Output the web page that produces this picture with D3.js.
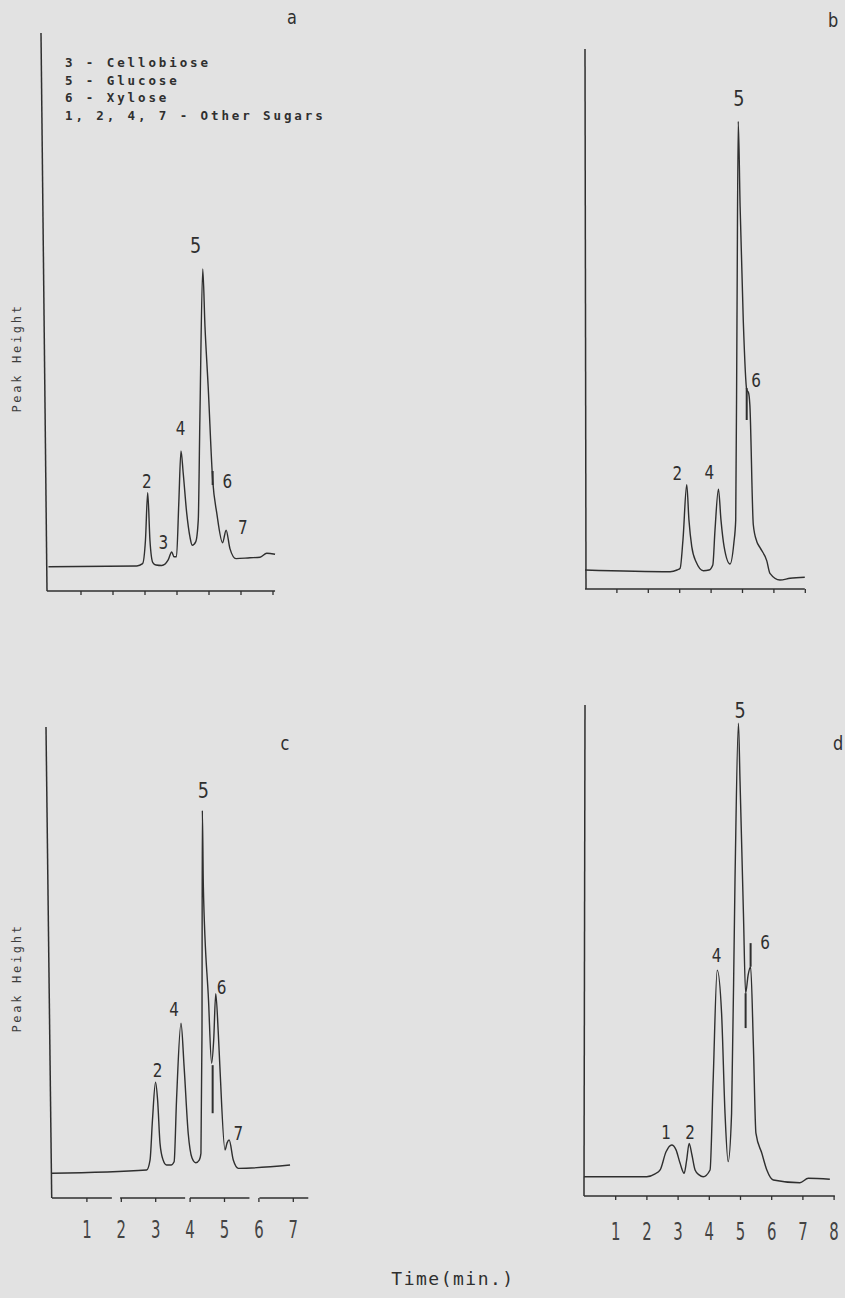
<!DOCTYPE html>
<html>
<head>
<meta charset="utf-8">
<script src="https://cdn.jsdelivr.net/npm/d3@7"></script>
<style>
  body { margin: 0; background: #e2e2e2; }
  svg { display: block; }
</style>
</head>
<body>
<svg id="chart" width="845" height="1298"></svg>
<script>
// traces: [time (min), peak height (% of y axis)]
const traceA = [[0,4.35],[2.76,4.48],[2.94,4.9],[3.03,9.1],[3.10,17.6],[3.17,9.1],[3.26,5.1],[3.36,4.66],[3.54,4.57],[3.74,5.56],[3.85,7.0],[3.92,6.15],[4.0,6.15],[4.07,15.5],[4.14,25.1],[4.21,21.1],[4.32,13.9],[4.42,9.7],[4.49,8.2],[4.60,8.8],[4.68,12.7],[4.73,30.6],[4.82,57.7],[4.89,47.4],[4.99,36.6],[5.13,19.9],[5.26,13.9],[5.44,8.66],[5.55,10.9],[5.67,7.6],[5.86,5.8],[6.30,5.95],[6.61,6.04],[6.82,6.76],[7.08,6.58]];
const traceB = [[0,3.52],[2.71,3.2],[2.93,3.52],[3.03,3.84],[3.12,9.1],[3.24,19.3],[3.31,12.8],[3.40,7.84],[3.54,5.0],[3.77,3.39],[3.95,3.52],[4.07,4.45],[4.14,10.9],[4.25,18.5],[4.33,12.8],[4.43,7.84],[4.62,4.63],[4.74,8.47],[4.80,12.8],[4.84,49.8],[4.88,86.6],[4.94,70.8],[5.04,49.8],[5.15,36.9],[5.21,36.3],[5.25,34.1],[5.36,11.9],[5.47,8.8],[5.57,7.7],[5.79,5.2],[5.89,2.9],[6.21,1.67],[6.53,1.98],[7.0,2.17]];
const traceC = [[0,5.24],[2.75,5.94],[2.85,8.06],[2.92,16.5],[3.01,24.6],[3.07,20.8],[3.14,11.6],[3.23,8.06],[3.33,7.0],[3.46,7.0],[3.55,7.7],[3.62,20.8],[3.75,37.1],[3.84,27.9],[3.96,13.7],[4.07,8.5],[4.18,7.5],[4.28,8.06],[4.33,9.5],[4.36,34.9],[4.37,82.3],[4.40,66.1],[4.55,42.0],[4.64,28.6],[4.70,33.5],[4.76,43.4],[4.83,35.6],[4.88,27.9],[5.03,10.2],[5.09,11.7],[5.15,12.3],[5.27,8.06],[5.42,6.3],[6.92,7.0]];
const traceD = [[0,3.93],[2.01,3.93],[2.28,4.5],[2.44,5.3],[2.63,9.0],[2.81,10.4],[2.95,9.4],[3.08,6.66],[3.21,4.62],[3.29,7.3],[3.37,10.7],[3.46,8.35],[3.56,5.3],[3.69,4.3],[3.82,3.93],[4.04,5.3],[4.14,23.6],[4.27,46.0],[4.41,37.2],[4.52,16.8],[4.62,7.0],[4.73,16.8],[4.84,64.4],[4.95,96.3],[5.0,84.7],[5.11,57.6],[5.18,41.3],[5.26,45.0],[5.34,46.7],[5.43,30.4],[5.51,12.8],[5.70,8.7],[5.86,5.3],[6.07,3.26],[6.92,2.69],[7.19,3.6],[7.88,3.4]];

// integrator marks: [time, from height, to height]
const marksA = [[5.13,19.0,21.5]];
const marksB = [[5.15,31.3,37.2]];
const marksC = [[4.67,18.0,28.2]];
const marksD = [[5.18,34.2,41.3],[5.34,46.7,51.5]];

// peak numbers: [label, time, height]
const peaksA = [["2",3.07,19.6],["3",3.59,8.8],["4",4.13,29.2],["5",4.60,62.0],["6",5.59,19.6],["7",6.07,11.5]];
const peaksB = [["2",2.94,21.4],["4",3.96,21.7],["5",4.90,90.9],["6",5.45,38.7]];
const peaksC = [["2",3.07,27.2],["4",3.55,40.2],["5",4.40,86.6],["6",4.93,44.8],["7",5.42,13.7]];
const peaksD = [["1",2.63,13.1],["2",3.40,13.1],["4",4.25,49.1],["5",5.0,99.0],["6",5.80,51.8]];

const ticks7 = [1,2,3,4,5,6,7];
const ticks8 = [1,2,3,4,5,6,7,8];

const legendLines = ["3 - Cellobiose", "5 - Glucose", "6 - Xylose", "1, 2, 4, 7 - Other Sugars"];

const ink = "#2f2f2f";

const panels = [
  { letter: "a", trace: traceA, marks: marksA, peaks: peaksA, ticks: ticks7, labels: false,
    tMax: 7, x0: 48.5, x1: 272.5, yBase: 591, yTop: 33, yAxTop: 41, yAxBot: 47,
    xSeg: [[-0.05, 7.08]], lx: 292, ly: 17 },
  { letter: "b", trace: traceB, marks: marksB, peaks: peaksB, ticks: ticks7, labels: false,
    tMax: 7, x0: 585, x1: 804.8, yBase: 589, yTop: 49, yAxTop: 585, yAxBot: 586,
    xSeg: [[0, 7.0]], lx: 833, ly: 20 },
  { letter: "c", trace: traceC, marks: marksC, peaks: peaksC, ticks: ticks7, labels: true, labelDy: 40,
    tMax: 7, x0: 52, x1: 292.8, yBase: 1198, yTop: 727, yAxTop: 46, yAxBot: 51.7,
    xSeg: [[0, 1.74], [1.98, 3.87], [4.01, 5.74], [6.03, 7.45]], lx: 285, ly: 743 },
  { letter: "d", trace: traceD, marks: marksD, peaks: peaksD, ticks: ticks8, labels: true, labelDy: 44,
    tMax: 8, x0: 584, x1: 833.6, yBase: 1196, yTop: 705, yAxTop: 585, yAxBot: 584,
    xSeg: [[0, 8.04]], lx: 838, ly: 743 }
];

const svg = d3.select("#chart");

function drawPanel(p) {
  const x = d3.scaleLinear().domain([0, p.tMax]).range([p.x0, p.x1]);
  const y = d3.scaleLinear().domain([0, 100]).range([p.yBase, p.yTop]);
  const g = svg.append("g");

  // y axis - the scan leans a little
  g.append("line")
    .attr("x1", p.yAxTop).attr("y1", p.yTop)
    .attr("x2", p.yAxBot).attr("y2", p.yBase)
    .attr("stroke", ink).attr("stroke-width", 1.5);

  g.selectAll(".xseg")
    .data(p.xSeg)
    .enter().append("line")
    .attr("x1", d => x(d[0])).attr("x2", d => x(d[1]))
    .attr("y1", p.yBase).attr("y2", p.yBase)
    .attr("stroke", ink).attr("stroke-width", 1.5);

  const axis = d3.axisBottom(x)
    .tickValues(p.ticks)
    .tickSize(4)
    .tickSizeOuter(0)
    .tickFormat(p.labels ? d3.format("d") : "");

  const ax = g.append("g")
    .attr("transform", "translate(0," + p.yBase + ")")
    .call(axis);
  ax.select(".domain").remove();
  ax.selectAll("line").attr("stroke", ink).attr("stroke-width", 1.3);
  ax.attr("font-family", "DejaVu Sans").attr("font-size", 24);
  ax.selectAll("text")
    .attr("y", 0).attr("dy", null)
    .attr("fill", "#444")
    .attr("transform", "translate(0," + (p.labelDy || 0) + ") scale(0.62,1)");

  const line = d3.line()
    .x(d => x(d[0]))
    .y(d => y(d[1]))
    .curve(d3.curveMonotoneX);

  g.append("path")
    .datum(p.trace)
    .attr("d", line)
    .attr("fill", "none")
    .attr("stroke", ink)
    .attr("stroke-width", 1.4)
    .attr("stroke-linejoin", "round");

  g.selectAll(".mark")
    .data(p.marks)
    .enter().append("line")
    .attr("x1", d => x(d[0])).attr("x2", d => x(d[0]))
    .attr("y1", d => y(d[1])).attr("y2", d => y(d[2]))
    .attr("stroke", ink).attr("stroke-width", 2);

  g.selectAll(".peak")
    .data(p.peaks)
    .enter().append("text")
    .attr("transform", d => "translate(" + x(d[1]) + "," + y(d[2]) + ") scale(0.8,1)")
    .attr("dy", "0.36em")
    .attr("text-anchor", "middle")
    .attr("font-family", "DejaVu Sans")
    .attr("font-size", d => d[0] === "5" ? 22 : 19)
    .attr("fill", ink)
    .text(d => d[0]);

  g.append("text")
    .attr("transform", "translate(" + p.lx + "," + p.ly + ") scale(0.85,1)")
    .attr("dy", "0.36em")
    .attr("text-anchor", "middle")
    .attr("font-family", "DejaVu Sans")
    .attr("font-size", 19)
    .attr("fill", ink)
    .text(p.letter);
}

panels.forEach(drawPanel);

// legend in panel a
svg.append("g")
  .selectAll("text")
  .data(legendLines)
  .enter().append("text")
  .attr("x", 65)
  .attr("y", (d, i) => 67 + i * 17.5)
  .attr("font-family", "DejaVu Sans Mono")
  .attr("font-weight", "bold")
  .attr("font-size", 12.5)
  .attr("letter-spacing", 2.9)
  .attr("fill", ink)
  .text(d => d);

// y titles
[358, 978].forEach(function(cy) {
  svg.append("text")
    .attr("transform", "translate(21," + cy + ") rotate(-90)")
    .attr("text-anchor", "middle")
    .attr("font-family", "DejaVu Sans Mono")
    .attr("font-size", 12)
    .attr("letter-spacing", 2.7)
    .attr("fill", "#3c3c3c")
    .text("Peak Height");
});

svg.append("text")
  .attr("x", 453).attr("y", 1285)
  .attr("text-anchor", "middle")
  .attr("font-family", "DejaVu Sans Mono")
  .attr("font-size", 18)
  .attr("letter-spacing", 1.5)
  .attr("fill", ink)
  .text("Time(min.)");
</script>
</body>
</html>
